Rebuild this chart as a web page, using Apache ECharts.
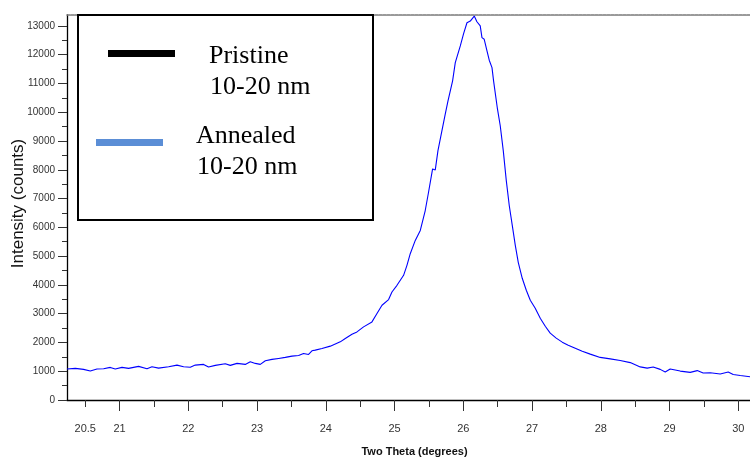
<!DOCTYPE html>
<html><head><meta charset="utf-8">
<script src="https://cdn.jsdelivr.net/npm/echarts@6/dist/echarts.min.js"></script>
<style>html,body{margin:0;padding:0;background:#fff}#c{width:750px;height:459px}</style>
</head><body><div id="c"></div>
<script>
// ---- data ----
const twoTheta = [20.235,20.356,20.476,20.574,20.671,20.767,20.865,20.937,21.035,21.131,21.276,21.399,21.471,21.567,21.713,21.835,21.931,22.028,22.101,22.222,22.294,22.392,22.537,22.610,22.708,22.828,22.901,22.974,23.047,23.120,23.217,23.313,23.410,23.508,23.604,23.676,23.749,23.798,23.846,23.944,24.065,24.210,24.283,24.380,24.453,24.549,24.671,24.744,24.817,24.913,24.962,25.035,25.131,25.180,25.228,25.301,25.374,25.446,25.494,25.553,25.592,25.631,25.689,25.737,25.777,25.844,25.883,25.956,26.004,26.053,26.101,26.159,26.198,26.246,26.271,26.304,26.344,26.377,26.417,26.440,26.494,26.537,26.581,26.625,26.668,26.712,26.756,26.799,26.857,26.916,26.974,27.046,27.119,27.192,27.264,27.351,27.439,27.526,27.628,27.730,27.846,27.991,28.137,28.282,28.428,28.573,28.675,28.762,28.864,28.937,29.009,29.155,29.300,29.402,29.489,29.591,29.737,29.853,29.926,30.028,30.173];
const counts = [1075,1099,1064,1005,1075,1085,1133,1075,1133,1099,1168,1085,1154,1109,1154,1213,1154,1140,1213,1237,1144,1203,1258,1203,1272,1237,1328,1272,1237,1362,1411,1445,1480,1525,1549,1619,1584,1709,1733,1791,1872,2021,2138,2288,2367,2541,2714,3005,3293,3490,3754,3986,4333,4679,5085,5546,5892,6585,7220,8031,7996,8665,9358,9937,10398,11091,11726,12304,12731,13111,13170,13344,13146,13000,12592,12536,12131,11808,11552,11091,10155,9530,8665,7625,6760,6066,5373,4783,4230,3813,3466,3190,2842,2565,2322,2149,2010,1906,1802,1698,1594,1480,1430,1370,1300,1150,1109,1144,1064,970,1075,1005,960,1022,936,946,901,970,884,849,808];
const xMajorTicks = [21,22,23,24,25,26,27,28,29,30];
const xMinorTicks = [20.5,21.5,22.5,23.5,24.5,25.5,26.5,27.5,28.5,29.5];
const xTickLabels = [20.5,21,22,23,24,25,26,27,28,29,30];
const yMajorTicks = [0,1000,2000,3000,4000,5000,6000,7000,8000,9000,10000,11000,12000,13000];
const yMinorTicks = [500,1500,2500,3500,4500,5500,6500,7500,8500,9500,10500,11500,12500];
const legendNames = ['Pristine', 'Annealed'];
const legendSub = ['10-20 nm', '10-20 nm'];
const xName = 'Two Theta (degrees)';
const yName = 'Intensity (counts)';
const X_MIN = 20.235, X_MAX = 30.17, Y_MIN = 0, Y_MAX = 13380;

// ---- layout / styles ----
const gridBox = {left: 67, right: 0, top: 15, bottom: 59, outerBoundsMode: 'none'};
const sans = 'Liberation Sans, Arial, sans-serif';
const serif = 'Liberation Serif, Times New Roman, serif';

const chart = echarts.init(document.getElementById('c'), null, {renderer: 'canvas'});
const seriesData = twoTheta.map((x, i) => [x, counts[i]]);

chart.setOption({
  animation: false,
  backgroundColor: '#fff',
  grid: [Object.assign({}, gridBox), Object.assign({}, gridBox)],
  xAxis: [
    {type: 'value', gridIndex: 0, position: 'bottom', min: X_MIN, max: X_MAX,
     axisLine: {show: true, onZero: false, lineStyle: {color: '#000', width: 1.3}},
     axisTick: {show: true, customValues: xMajorTicks, length: 11, lineStyle: {color: '#333', width: 1}},
     axisLabel: {show: true, customValues: xTickLabels, margin: 23, formatter: v => String(v),
                 fontFamily: sans, fontSize: 11, color: '#333'},
     splitLine: {show: false},
     name: xName, nameLocation: 'middle', nameGap: 46, nameMoveOverlap: false,
     nameTextStyle: {fontFamily: sans, fontSize: 11, fontWeight: 'bold', color: '#111', padding: [0,0,0,12]}},
    {type: 'value', gridIndex: 0, position: 'top', min: X_MIN, max: X_MAX,
     axisLine: {show: true, onZero: false, lineStyle: {color: '#7a7a7a', width: 1.6, type: [3, 1]}},
     axisTick: {show: false}, axisLabel: {show: false}, splitLine: {show: false}},
    {type: 'value', gridIndex: 1, position: 'bottom', min: X_MIN, max: X_MAX,
     axisLine: {show: false, onZero: false},
     axisTick: {show: true, customValues: xMinorTicks, length: 7, lineStyle: {color: '#333', width: 1}},
     axisLabel: {show: false}, splitLine: {show: false}}
  ],
  yAxis: [
    {type: 'value', gridIndex: 0, position: 'left', min: Y_MIN, max: Y_MAX,
     axisLine: {show: true, onZero: false, lineStyle: {color: '#000', width: 1.3}},
     axisTick: {show: true, customValues: yMajorTicks, length: 9, lineStyle: {color: '#333', width: 1}},
     axisLabel: {show: true, customValues: yMajorTicks, margin: 12, formatter: v => String(v),
                 fontFamily: sans, fontSize: 10, color: '#333'},
     splitLine: {show: false},
     name: yName, nameLocation: 'middle', nameGap: 40, nameMoveOverlap: false,
     nameTextStyle: {fontFamily: sans, fontSize: 17, color: '#111', padding: [0,0,0,8]}},
    {type: 'value', gridIndex: 1, position: 'left', min: Y_MIN, max: Y_MAX,
     axisLine: {show: false, onZero: false},
     axisTick: {show: true, customValues: yMinorTicks, length: 5, lineStyle: {color: '#333', width: 1}},
     axisLabel: {show: false}, splitLine: {show: false}}
  ],
  series: [{
    type: 'line', name: legendNames[1], xAxisIndex: 0, yAxisIndex: 0,
    data: seriesData, showSymbol: false, symbol: 'none', smooth: false, clip: true,
    lineStyle: {color: '#0000ff', width: 1.1}
  }],
  graphic: [
    {type: 'rect', z: 100, shape: {x: 78, y: 15, width: 295, height: 205},
     style: {fill: '#fff', stroke: '#000', lineWidth: 2}},
    {type: 'rect', z: 101, shape: {x: 108, y: 50, width: 67, height: 7}, style: {fill: '#000'}},
    {type: 'rect', z: 101, shape: {x: 96, y: 139, width: 67, height: 7}, style: {fill: '#5b8ed6'}},
    {type: 'text', z: 101, x: 209, y: 69, style: {text: legendNames[0], font: '26px ' + serif, fill: '#000', verticalAlign: 'bottom'}},
    {type: 'text', z: 101, x: 210, y: 100, style: {text: legendSub[0], font: '26px ' + serif, fill: '#000', verticalAlign: 'bottom'}},
    {type: 'text', z: 101, x: 196, y: 149, style: {text: legendNames[1], font: '26px ' + serif, fill: '#000', verticalAlign: 'bottom'}},
    {type: 'text', z: 101, x: 197, y: 180, style: {text: legendSub[1], font: '26px ' + serif, fill: '#000', verticalAlign: 'bottom'}}
  ]
});
</script></body></html>
